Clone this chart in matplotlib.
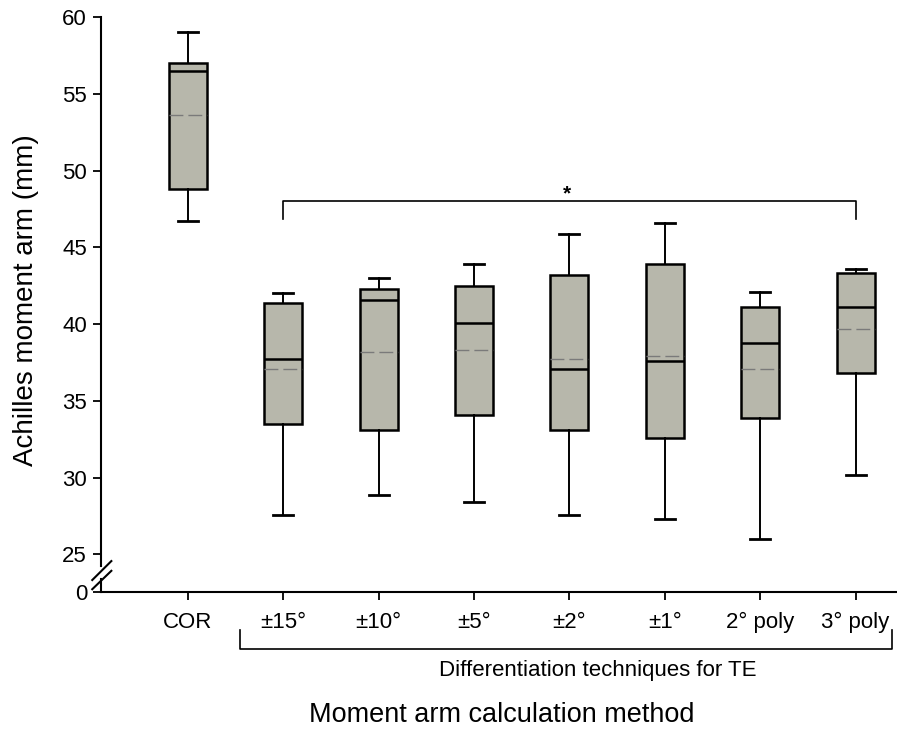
import matplotlib
matplotlib.use("Agg")
import matplotlib.pyplot as plt
import matplotlib.transforms as mtransforms

plt.rcParams['font.family'] = ['Liberation Sans', 'DejaVu Sans']

# data (mm)
methods = ["COR", "±15°", "±10°", "±5°", "±2°", "±1°", "2° poly", "3° poly"]
whis_lo = [46.7, 27.6, 28.9, 28.4, 27.6, 27.3, 26.0, 30.2]
q1 = [48.8, 33.5, 33.1, 34.1, 33.1, 32.6, 33.9, 36.8]
medians = [56.5, 37.7, 41.6, 40.1, 37.1, 37.6, 38.8, 41.1]
means = [53.6, 37.1, 38.2, 38.3, 37.7, 37.9, 37.1, 39.7]
q3 = [57.0, 41.4, 42.3, 42.5, 43.2, 43.9, 41.1, 43.3]
whis_hi = [59.0, 42.0, 43.0, 43.9, 45.9, 46.6, 42.1, 43.6]

sig_pair = (2, 8)   # ±15° vs 3° poly
sig_level = 48.0

y_ticks = [25, 30, 35, 40, 45, 50, 55, 60]
zero_pos = 22.55    # where the "0" sits below the axis break

stats = []
for i in range(len(methods)):
    stats.append(dict(label=methods[i], whislo=whis_lo[i], q1=q1[i], med=medians[i],
                      q3=q3[i], whishi=whis_hi[i], mean=means[i], fliers=[]))

fig = plt.figure(figsize=(8.97, 7.31), dpi=100)
ax = fig.add_axes([0.1126, 0.19, 0.887, 0.7867])

positions = list(range(1, len(methods) + 1))
ax.bxp(stats, positions=positions, widths=0.4, patch_artist=True,
       showmeans=True, meanline=True,
       boxprops=dict(facecolor="#b7b7ab", edgecolor="black", linewidth=1.8),
       medianprops=dict(color="black", linewidth=1.8),
       meanprops=dict(color="#7a7a7a", linewidth=1.0, linestyle=(0, (10, 3.6))),
       whiskerprops=dict(color="black", linewidth=1.4),
       capprops=dict(color="black", linewidth=2.0),
       capwidths=0.21)

ax.set_xlim(0.09, 8.43)
ax.set_ylim(zero_pos, 60)
ax.set_yticks([zero_pos] + y_ticks)
ax.set_yticklabels(["0"] + [str(t) for t in y_ticks])
ax.set_xticks(positions)
ax.set_xticklabels(methods)
ax.tick_params(axis="both", direction="out", length=6, width=1.3, labelsize=16, pad=4)
ax.tick_params(axis="x", pad=8)

for s in ["top", "right", "left"]:
    ax.spines[s].set_visible(False)
ax.spines["bottom"].set_linewidth(1.5)

# left spine with a break
kw = dict(transform=ax.transAxes, color="black", linewidth=1.5, clip_on=False)
ax.plot([0, 0], [0.045, 1.0], **kw)
ax.plot([0, 0], [0.0, 0.022], **kw)
ax.plot([-0.011, 0.013], [0.021, 0.054], **kw)
ax.plot([-0.011, 0.013], [0.005, 0.037], **kw)

# significance bracket
x1, x2 = sig_pair
ax.plot([x1, x1, x2, x2], [sig_level - 1.15, sig_level, sig_level, sig_level - 1.15],
        color="black", linewidth=1.2)
ax.text((x1 + x2) / 2 - 0.03, sig_level - 0.15, "*", ha="center", va="bottom",
        fontsize=15, fontweight="bold")

# grouping bracket under the tick labels
trans = mtransforms.blended_transform_factory(ax.transData, ax.transAxes)
ax.plot([1.55, 1.55, 8.38, 8.38], [-0.066, -0.099, -0.099, -0.066],
        transform=trans, color="black", linewidth=1.2, clip_on=False)
ax.text(5.3, -0.137, "Differentiation techniques for TE", transform=trans,
        ha="center", va="center", fontsize=16)

fig.text(0.029, 0.59, "Achilles moment arm (mm)", rotation=90, ha="center", va="center",
         fontsize=20)
fig.text(0.559, 0.022, "Moment arm calculation method", ha="center", va="center",
         fontsize=19.5)

fig.savefig("out.png", dpi=100)
